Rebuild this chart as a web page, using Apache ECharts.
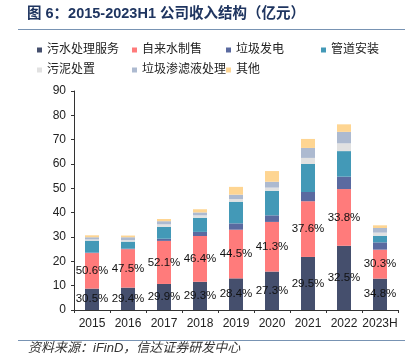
<!DOCTYPE html>
<html>
<head>
<meta charset="utf-8">
<script src="https://cdn.jsdelivr.net/npm/echarts@6/dist/echarts.min.js"></script>
<style>
html,body{margin:0;padding:0;background:#fff;}
#c{width:415px;height:362px;}
</style>
</head>
<body>
<div id="c"></div>
<script>
var categories = ['2015','2016','2017','2018','2019','2020','2021','2022','2023H'];
var seriesNames = ['污水处理服务','自来水制售','垃圾发电','管道安装','污泥处置','垃圾渗滤液处理','其他'];
var sewage   = [8.8, 9.2, 10.7, 11.6, 13.0, 15.8, 21.8, 26.4, 12.9];
var water    = [14.6, 15.8, 17.7, 18.8, 20.0, 20.4, 22.9, 23.3, 11.9];
var waste    = [0.2, 0.2, 0.9, 1.7, 2.6, 2.7, 3.8, 5.1, 3.0];
var pipe     = [4.9, 2.9, 4.8, 5.8, 8.9, 10.1, 11.5, 10.5, 2.7];
var sludge   = [0.5, 0.6, 1.1, 1.0, 1.1, 1.3, 2.5, 3.2, 1.3];
var leachate = [0.9, 1.2, 1.3, 1.2, 1.8, 2.4, 4.1, 4.7, 1.9];
var other    = [0.8, 0.7, 0.9, 1.3, 3.2, 4.4, 3.7, 3.1, 1.1];
var sewagePct = ['30.5%','29.4%','29.9%','29.3%','28.4%','27.3%','29.5%','32.5%','34.8%'];
var waterPct  = ['50.6%','47.5%','52.1%','46.4%','44.5%','41.3%','37.6%','33.8%','30.3%'];
var yTicks = [0,10,20,30,40,50,60,70,80,90];

var colors = ['#454f6d','#ff7b7b','#5a6aa0','#4399b7','#e1e1e1','#adbad0','#fed592'];
var FONT = '"Liberation Sans","Noto Sans CJK SC",Arial,sans-serif';
var values = [sewage, water, waste, pipe, sludge, leachate, other];

var legendPos = [[37,44],[132,44],[226,44],[321,44],[37,64],[132,64],[226,64]];
var legends = seriesNames.map(function(n,i){
  return {data:[n], left:legendPos[i][0], top:legendPos[i][1], padding:0,
    icon:'rect', itemWidth:5, itemHeight:5,
    textStyle:{fontSize:12, color:'#222', fontFamily:FONT}};
});

var series = seriesNames.map(function(n,i){
  var s = {name:n, type:'bar', stack:'total', barWidth:14, data:values[i],
    itemStyle:{color:colors[i]}, emphasis:{disabled:true}};
  if(i===0 || i===1){
    var arr = i===0 ? sewagePct : waterPct;
    s.label = {show:true, position:'inside', color:'#111', fontSize:11.5, fontFamily:FONT,
      formatter:function(p){return arr[p.dataIndex];}};
  }
  return s;
});

var chart = echarts.init(document.getElementById('c'), null, {renderer:'canvas'});
chart.setOption({
  animation:false,
  backgroundColor:'#fff',
  textStyle:{fontFamily:FONT},
  legend:legends,
  grid:{left:74, right:17, top:91, bottom:52, containLabel:false},
  xAxis:{type:'category', data:categories,
    axisLine:{lineStyle:{color:'#333', width:1}},
    axisTick:{show:true, length:3, lineStyle:{color:'#333'}},
    axisLabel:{color:'#222', fontSize:12, margin:8, interval:0, fontFamily:FONT}},
  yAxis:{type:'value', min:yTicks[0], max:yTicks[yTicks.length-1], interval:10,
    axisLine:{show:true, lineStyle:{color:'#333', width:1}},
    axisTick:{show:true, length:3, lineStyle:{color:'#333'}},
    splitLine:{show:false},
    axisLabel:{color:'#222', fontSize:12, margin:8, fontFamily:FONT}},
  graphic:[
    {type:'text', left:27, top:7, style:{text:'图 6：2015-2023H1 公司收入结构（亿元）', fill:'#1f3560', font:'bold 14.5px '+FONT}},
    {type:'line', shape:{x1:18, y1:29.5, x2:405, y2:29.5}, style:{stroke:'#7893b3', lineWidth:1}},
    {type:'line', shape:{x1:18, y1:340.5, x2:405, y2:340.5}, style:{stroke:'#7893b3', lineWidth:1}},
    {type:'text', left:28, top:342, style:{text:'资料来源：iFinD，信达证券研发中心', fill:'#333', font:'italic 13px '+FONT}}
  ],
  series:series
});
</script>
</body>
</html>
